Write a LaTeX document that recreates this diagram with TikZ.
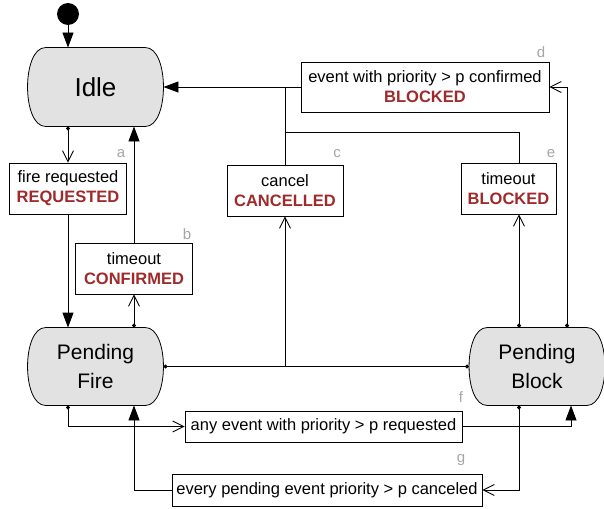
\documentclass[tikz,border=0pt]{standalone}
\usepackage{fontspec}
\setmainfont{Liberation Sans}
\usetikzlibrary{arrows.meta,backgrounds}
\definecolor{darkred}{HTML}{9E2A2B}
\definecolor{statefill}{HTML}{E2E2E2}
\begin{document}
\begin{tikzpicture}[x=1pt,y=-1pt,line width=0.9pt,
  state/.style={minimum width=135pt,minimum height=77pt,align=center,font=\fontsize{21}{29}\selectfont},
  trans/.style={draw,fill=white,line width=0.7pt,align=center,inner sep=2pt,font=\fontsize{16.5}{20}\selectfont},
  tag/.style={text=gray!70,font=\fontsize{15}{15}\selectfont,inner sep=0pt},
  open/.style={-{Straight Barb[length=11pt,width=11pt]}},
  solid tip/.style={-{Triangle[length=15pt,width=11pt]}},
  dot open/.style={{Circle[length=4pt]}-{Straight Barb[length=11pt,width=11pt]}},
  dot dot/.style={{Circle[length=4pt]}-{Circle[length=4pt]}}]
\useasboundingbox (0,0) rectangle (604,508);

% states
\node[circle,fill,minimum size=22pt,inner sep=0pt] (init) at (68,14) {};
\node[state,minimum height=78pt,font=\fontsize{26}{29}\selectfont] (idle) at (95.5,87) {Idle};
\node[state] (pf) at (95.5,366.5) {Pending\\Fire};
\node[state] (pb) at (537,366.5) {Pending\\Block};

\begin{scope}[on background layer]
\foreach \s in {idle,pf,pb}
  \draw[fill=statefill,line width=0.8pt] ([xshift=18pt]\s.north west) -- ([xshift=-18pt]\s.north east)
    .. controls ([xshift=6pt]\s.north east) and ([xshift=6pt]\s.south east) .. ([xshift=-18pt]\s.south east)
    -- ([xshift=18pt]\s.south west)
    .. controls ([xshift=-6pt]\s.south west) and ([xshift=-6pt]\s.north west) .. cycle;
\end{scope}

% transitions
\node[trans,minimum width=117pt,minimum height=51pt] (a) at (68,188.5) {fire requested\\{\color{darkred}\bfseries REQUESTED}};
\node[trans,minimum width=117pt,minimum height=51pt] (b) at (134,268.5) {timeout\\{\color{darkred}\bfseries CONFIRMED}};
\node[trans,minimum width=116pt,minimum height=51pt] (c) at (285,190.5) {cancel\\{\color{darkred}\bfseries CANCELLED}};
\node[trans,minimum width=248pt,minimum height=50pt] (d) at (425,87) {event with priority > p confirmed\\{\color{darkred}\bfseries BLOCKED}};
\node[trans,minimum width=95pt,minimum height=51pt] (e) at (508.5,188.5) {timeout\\{\color{darkred}\bfseries BLOCKED}};
\node[trans,minimum width=277pt,minimum height=31pt] (f) at (323.5,426.5) {any event with priority > p requested};
\node[trans,minimum width=310pt,minimum height=32pt] (g) at (327,490) {every pending event priority > p canceled};

\node[tag] at (121,154) {a};
\node[tag] at (187,234) {b};
\node[tag] at (337,154) {c};
\node[tag] at (541,52) {d};
\node[tag] at (551,154) {e};
\node[tag] at (461,397) {f};
\node[tag] at (461,460) {g};

% connectors
\draw[solid tip] (init) -- (init |- idle.north);
\draw[dot open] (a.north |- idle.south) -- (a.north);
\draw[solid tip] (a.south) -- (a.south |- pf.north);
\draw[dot open] (b.south |- pf.north) -- (b.south);
\draw[solid tip] (b.north) -- (b.north |- idle.south);

\draw[dot dot] (pf.east) -- (pb.west);
\draw[open] (c.south |- pf.east) -- (c.south);
\draw[solid tip] (c.north) |- (idle.east);
\draw (d.west) -- (d.west -| c.north);
\draw ([xshift=10.5pt]e.north) -- ++(0,-30) -| (c.north);
\draw[dot open] ([xshift=10.5pt]e.south |- pb.north) -- ([xshift=10.5pt]e.south);
\draw[dot open] ([xshift=30pt]pb.north) |- (d.east);

\draw[dot open] ([xshift=-27.5pt]pf.south) |- (f.west);
\draw[solid tip] (f.east) -| ([xshift=34pt]pb.south);
\draw[dot open] ([xshift=-18pt]pb.south) |- (g.east);
\draw[solid tip] (g.west) -| ([xshift=38.5pt]pf.south);
\end{tikzpicture}
\end{document}
